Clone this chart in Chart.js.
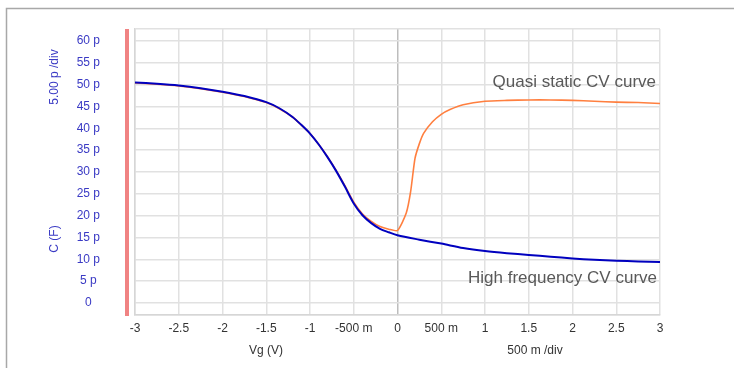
<!DOCTYPE html>
<html>
<head>
<meta charset="utf-8">
<script src="https://cdn.jsdelivr.net/npm/chart.js@4"></script>
<style>
  html, body { margin: 0; padding: 0; background: #fff; }
  #wrap { width: 734px; height: 368px; }
</style>
</head>
<body>
<div id="wrap"><canvas id="cvChart" width="734" height="368"></canvas></div>
<script>
// gate voltage (V) and capacitance (pF)
const vgHF = [-3, -2.75, -2.5, -2.25, -2, -1.75, -1.5, -1.35, -1.2, -1.1, -1.0, -0.9, -0.8, -0.7, -0.6, -0.5, -0.4, -0.3, -0.2, -0.1, 0, 0.25, 0.5, 0.75, 1, 1.25, 1.5, 1.75, 2, 2.25, 2.5, 2.75, 3];
const cHF = [50.5, 50.2, 49.8, 49.2, 48.4, 47.4, 46.0, 44.6, 42.6, 40.8, 38.8, 36.3, 33.4, 30.2, 26.6, 22.8, 20.1, 18.3, 17.0, 16.2, 15.5, 14.5, 13.6, 12.6, 11.9, 11.4, 11.0, 10.6, 10.2, 9.9, 9.7, 9.5, 9.4];

const vgQS = [-3, -2.75, -2.5, -2.25, -2, -1.75, -1.5, -1.35, -1.2, -1.1, -1.0, -0.9, -0.8, -0.7, -0.6, -0.5, -0.4, -0.3, -0.2, -0.1, 0, 0.1, 0.15, 0.2, 0.25, 0.3, 0.4, 0.5, 0.6, 0.75, 1, 1.25, 1.5, 1.75, 2, 2.25, 2.5, 2.75, 3];
const cQS = [50.4, 50.1, 49.7, 49.1, 48.3, 47.3, 45.9, 44.5, 42.6, 40.8, 38.8, 36.3, 33.5, 30.3, 26.8, 23.1, 20.4, 18.7, 17.5, 16.9, 16.6, 20.6, 25.5, 33.1, 36.5, 38.9, 41.5, 43.2, 44.3, 45.4, 46.2, 46.4, 46.5, 46.5, 46.4, 46.2, 46.0, 45.9, 45.7];

const yTicks = [0, 5, 10, 15, 20, 25, 30, 35, 40, 45, 50, 55, 60];
const xTickLabels = { "-3": "-3", "-2.5": "-2.5", "-2": "-2", "-1.5": "-1.5", "-1": "-1", "-0.5": "-500 m", "0": "0", "0.5": "500 m", "1": "1", "1.5": "1.5", "2": "2", "2.5": "2.5", "3": "3" };

const Y_MIN = -2.75;
const Y_MAX = 62.75;

const toPoints = (xs, ys) => xs.map((x, i) => ({ x: x, y: ys[i] }));

const FONT = "'Liberation Sans', Arial, sans-serif";
const BLUE_TXT = "#3a3ac4";

const extras = {
  id: "extras",
  beforeDraw(chart) {
    const ctx = chart.ctx;
    const area = chart.chartArea;
    ctx.save();
    // outer frame
    ctx.strokeStyle = "#a8a8a8";
    ctx.lineWidth = 1.5;
    ctx.beginPath();
    ctx.moveTo(6.5, 368);
    ctx.lineTo(6.5, 8.5);
    ctx.lineTo(734, 8.5);
    ctx.stroke();
    // red marker bar left of plot
    ctx.fillStyle = "#f08383";
    ctx.fillRect(area.left - 10, area.top, 4, area.bottom - area.top + 1);
    ctx.restore();
  },
  afterDraw(chart) {
    const ctx = chart.ctx;
    ctx.save();
    ctx.fillStyle = BLUE_TXT;
    ctx.font = "12px " + FONT;
    ctx.textAlign = "center";
    ctx.textBaseline = "middle";
    ctx.translate(55, 77);
    ctx.rotate(-Math.PI / 2);
    ctx.fillText("5.00 p /div", 0, 0);
    ctx.restore();

    ctx.save();
    ctx.fillStyle = BLUE_TXT;
    ctx.font = "12px " + FONT;
    ctx.textAlign = "center";
    ctx.textBaseline = "middle";
    ctx.translate(55, 239);
    ctx.rotate(-Math.PI / 2);
    ctx.fillText("C (F)", 0, 0);
    ctx.restore();

    ctx.save();
    ctx.fillStyle = "#333";
    ctx.font = "12px " + FONT;
    ctx.textAlign = "center";
    ctx.textBaseline = "middle";
    ctx.fillText("Vg (V)", 266, 351);
    ctx.fillText("500 m /div", 535, 351);

    ctx.fillStyle = "#595959";
    ctx.font = "17px " + FONT;
    ctx.textAlign = "right";
    ctx.textBaseline = "alphabetic";
    ctx.fillText("Quasi static CV curve", 656, 87);
    ctx.fillText("High frequency CV curve", 657, 283);
    ctx.restore();
  }
};

const ctx = document.getElementById("cvChart").getContext("2d");
new Chart(ctx, {
  type: "line",
  data: {
    datasets: [
      {
        label: "High frequency",
        data: toPoints(vgHF, cHF),
        borderColor: "#0000bf",
        borderWidth: 2,
        pointRadius: 0,
        tension: 0.3,
        fill: false,
      },
      {
        label: "Quasi static",
        data: toPoints(vgQS, cQS),
        borderColor: "#ff7f3f",
        borderWidth: 1.6,
        pointRadius: 0,
        tension: 0.2,
        fill: false,
      },
    ],
  },
  options: {
    responsive: false,
    animation: false,
    layout: { padding: { left: 0, top: 29, right: 74, bottom: 0 } },
    plugins: {
      legend: { display: false },
      tooltip: { enabled: false },
    },
    scales: {
      x: {
        type: "linear",
        min: -3,
        max: 3,
        ticks: {
          stepSize: 0.5,
          padding: 6,
          color: "#333",
          font: { family: FONT, size: 12 },
          maxRotation: 0,
          autoSkip: false,
          callback: (v) => xTickLabels[String(Math.round(v * 10) / 10)] ?? "",
        },
        grid: {
          drawTicks: false,
          lineWidth: 1.5,
          color: (c) => (c.tick && c.tick.value === 0 ? "#bdbdbd" : "#e1e1e1"),
        },
        border: { color: "#d6d6d6", width: 1.5 },
        afterFit: (s) => { s.height = 53; },
      },
      y: {
        min: Y_MIN,
        max: Y_MAX,
        afterBuildTicks: (s) => {
          s.ticks = [Y_MIN, ...yTicks, Y_MAX].map((v) => ({ value: v }));
        },
        ticks: {
          padding: 35,
          crossAlign: "center",
          color: BLUE_TXT,
          font: { family: FONT, size: 12 },
          callback: (v) => {
            if (!yTicks.includes(v)) return "";
            return v === 0 ? "0" : v + " p";
          },
        },
        grid: {
          drawTicks: false,
          lineWidth: 1.5,
          color: "#e1e1e1",
        },
        border: { color: "#d6d6d6", width: 1.5 },
        afterFit: (s) => {
          s.width = 135;
          s.paddingTop = 0;
          s.paddingBottom = 0;
        },
      },
    },
  },
  plugins: [extras],
});
</script>
</body>
</html>
